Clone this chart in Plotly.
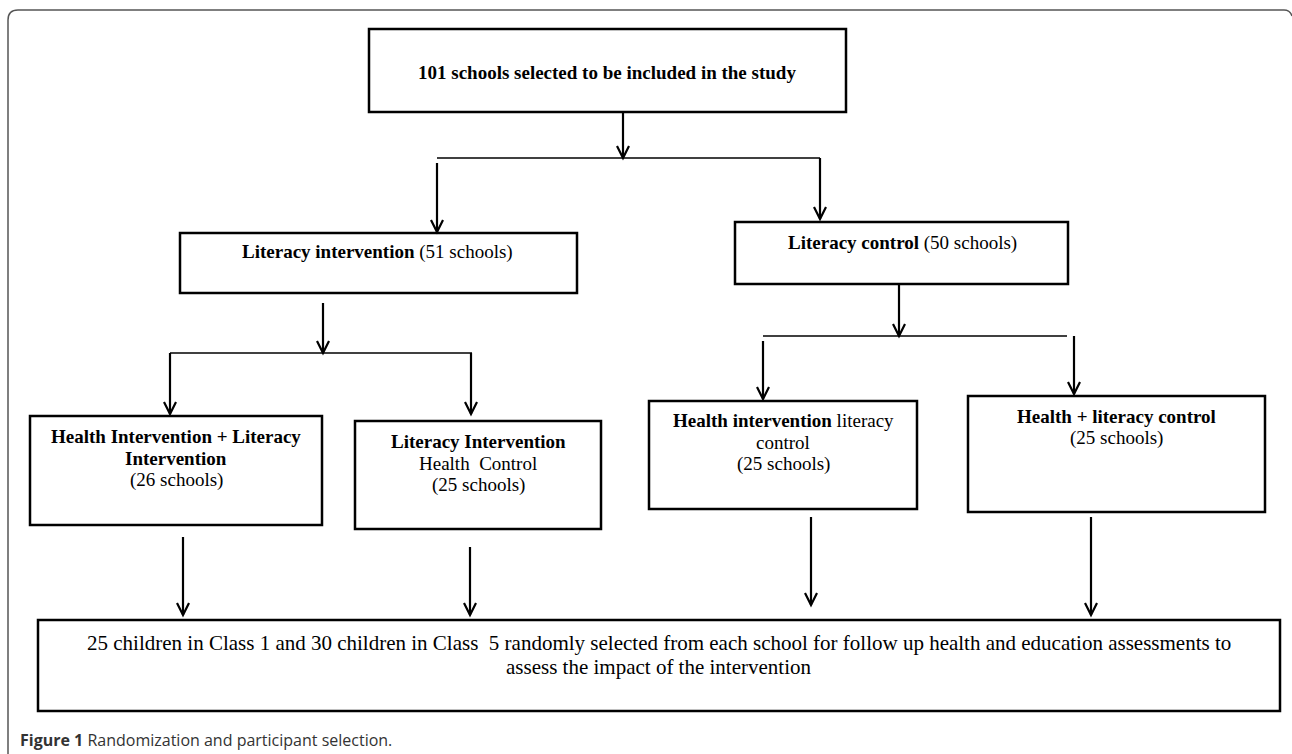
import plotly.graph_objects as go

# ---- content (text of the flowchart) ----
box_labels = [
    "<b>101 schools selected to be included in the study</b>",
    "<b>Literacy intervention</b> (51 schools)",
    "<b>Literacy control</b> (50 schools)",
    "<b>Health Intervention + Literacy</b><br><b>Intervention</b><br>(26 schools)",
    "<b>Literacy Intervention</b><br>Health  Control<br>(25 schools)",
    "<b>Health intervention</b> literacy<br>control<br>(25 schools)",
    "<b>Health + literacy control</b><br>(25 schools)",
    "25 children in Class 1 and 30 children in Class  5 randomly selected from each school for follow up health and education assessments to<br>assess the impact of the intervention",
]
caption_bold = "Figure 1"
caption_text = "Randomization and participant selection."

# ---- layout geometry (pixels, y downward) ----
box_x0 = [369, 180, 735, 30, 355, 649, 968, 38]
box_x1 = [846, 577, 1068, 322, 601, 917, 1265, 1280]
box_y0 = [29, 233, 222, 416, 421, 401, 396, 620]
box_y1 = [112, 293, 284, 525, 529, 509, 512, 711]
text_x = [607, 377, 902, 176, 478, 783, 1116, 659]
first_line_y = [72, 252, 243, 436, 441, 420, 416, 643]
line_pitch = [22, 22, 22, 22, 22, 22, 22, 24]
text_size = [19, 19, 19, 19, 19, 19, 19, 21]

# arrows: x, y_start, y_end
arrow_x = [623, 437, 820, 323, 170, 471, 899, 763, 1074, 183, 470, 811, 1091]
arrow_y0 = [112, 163, 158, 303, 353, 353, 284, 341, 336, 537, 547, 517, 517]
arrow_y1 = [158, 232, 219, 353, 414, 414, 336, 399, 394, 615, 615, 605, 615]

# horizontal connectors: y, x_start, x_end
hline_y = [158, 353, 336]
hline_x0 = [437, 170, 763]
hline_x1 = [820, 472, 1067]

W, H = 1292, 754
fig = go.Figure()

shapes = []
# outer frame (open at bottom / right edge of picture)
shapes.append(dict(
    type="path",
    path=f"M 8 {H} L 8 20 Q 8 10 18 10 L 1284 10 Q 1290 10 1292 16",
    line=dict(color="#555555", width=1.5), layer="below"))

for x0, x1, y0, y1 in zip(box_x0, box_x1, box_y0, box_y1):
    shapes.append(dict(type="rect", x0=x0, x1=x1, y0=y0, y1=y1,
                       line=dict(color="black", width=2.5), fillcolor="rgba(0,0,0,0)"))

for y, x0, x1 in zip(hline_y, hline_x0, hline_x1):
    shapes.append(dict(type="line", x0=x0, x1=x1, y0=y, y1=y,
                       line=dict(color="black", width=1.5)))

hw, hl = 6, 12
for x, y0, y1 in zip(arrow_x, arrow_y0, arrow_y1):
    shapes.append(dict(type="line", x0=x, x1=x, y0=y0, y1=y1,
                       line=dict(color="black", width=2.2)))
    shapes.append(dict(type="path",
                       path=f"M {x - hw} {y1 - hl} L {x} {y1} L {x + hw} {y1 - hl}",
                       line=dict(color="black", width=2.2)))

annotations = []
for lab, tx, ty, pitch, ts in zip(box_labels, text_x, first_line_y, line_pitch, text_size):
    for i, line in enumerate(lab.split("<br>")):
        annotations.append(dict(x=tx, y=ty + i * pitch, text=line, showarrow=False,
                                xanchor="center", yanchor="middle", align="center",
                                font=dict(family="Liberation Serif", size=ts, color="black")))

annotations.append(dict(x=18, y=740, text=f"<b>{caption_bold}</b> {caption_text}",
                        showarrow=False, xanchor="left", yanchor="middle",
                        font=dict(family="Open Sans", size=16, color="#333333")))

fig.update_layout(
    width=W, height=H,
    margin=dict(l=0, r=0, t=0, b=0),
    paper_bgcolor="white", plot_bgcolor="white",
    xaxis=dict(range=[0, W], visible=False, fixedrange=True),
    yaxis=dict(range=[H, 0], visible=False, fixedrange=True),
    shapes=shapes, annotations=annotations, showlegend=False,
)

fig.write_html("out.html", config={"displayModeBar": False},
               post_script="document.body.style.margin='0';document.body.style.overflow='hidden';")
